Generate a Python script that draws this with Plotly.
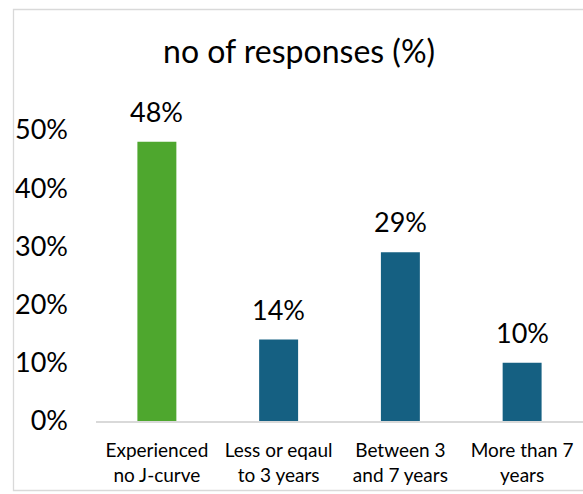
import plotly.graph_objects as go

# Survey results: share of responses per J-curve duration group
categories = ["Experienced<br>no J-curve", "Less or eqaul<br>to 3 years",
              "Between 3<br>and 7 years", "More than 7<br>years"]
values = [0.48, 0.14, 0.29, 0.10]
value_labels = ["48%", "14%", "29%", "10%"]
bar_colors = ["#4EA72E", "#156082", "#156082", "#156082"]

tick_vals = [0, 0.1, 0.2, 0.3, 0.4, 0.5]
tick_text = ["0%", "10%", "20%", "30%", "40%", "50%"]

W, H = 583, 494
ML, MR, MT, MB = 96, 0, 130, 73
PW, PH = W - ML - MR, H - MT - MB
FONT = "Lato, Carlito, Calibri, sans-serif"


def px_to_paper_x(px):
    return (px - ML) / PW


def px_to_paper_y(py):
    return (H - MB - py) / PH


fig = go.Figure(
    go.Bar(
        x=categories,
        y=values,
        marker=dict(color=bar_colors, line=dict(width=0)),
        width=0.32,
        hoverinfo="skip",
    )
)

# Value labels above each bar
for cat, val, lab in zip(categories, values, value_labels):
    fig.add_annotation(
        x=cat, y=val, text=lab, showarrow=False,
        yanchor="bottom", yshift=12,
        font=dict(family=FONT, size=27, color="#000000"),
    )

# Thin light-grey frame around the chart area
fig.add_shape(
    type="rect", xref="paper", yref="paper",
    x0=px_to_paper_x(13.5), x1=px_to_paper_x(600),
    y0=px_to_paper_y(490.5), y1=px_to_paper_y(9.5),
    line=dict(color="#D9D9D9", width=1.3), layer="below",
)

fig.update_layout(
    width=W, height=H,
    margin=dict(l=ML, r=MR, t=MT, b=MB, pad=0),
    paper_bgcolor="white", plot_bgcolor="white",
    showlegend=False,
    title=dict(
        text="no of responses (%)",
        font=dict(family=FONT, size=32, color="#000000"),
        x=0.513, xanchor="center", y=1 - 52 / H, yanchor="middle",
    ),
    font=dict(family=FONT, color="#000000"),
    bargap=0.68,
)

fig.update_xaxes(
    showgrid=False, zeroline=False,
    showline=True, linecolor="#D9D9D9", linewidth=2,
    ticks="", tickfont=dict(family=FONT, size=19, color="#000000"),
    ticklabelstandoff=11,
)
fig.update_yaxes(
    range=[0, 0.5], showgrid=False, zeroline=False, showline=False,
    tickvals=tick_vals, ticktext=tick_text, ticks="",
    tickfont=dict(family=FONT, size=27, color="#000000"),
    ticklabelstandoff=27,
)

fig.write_html("out.html")
